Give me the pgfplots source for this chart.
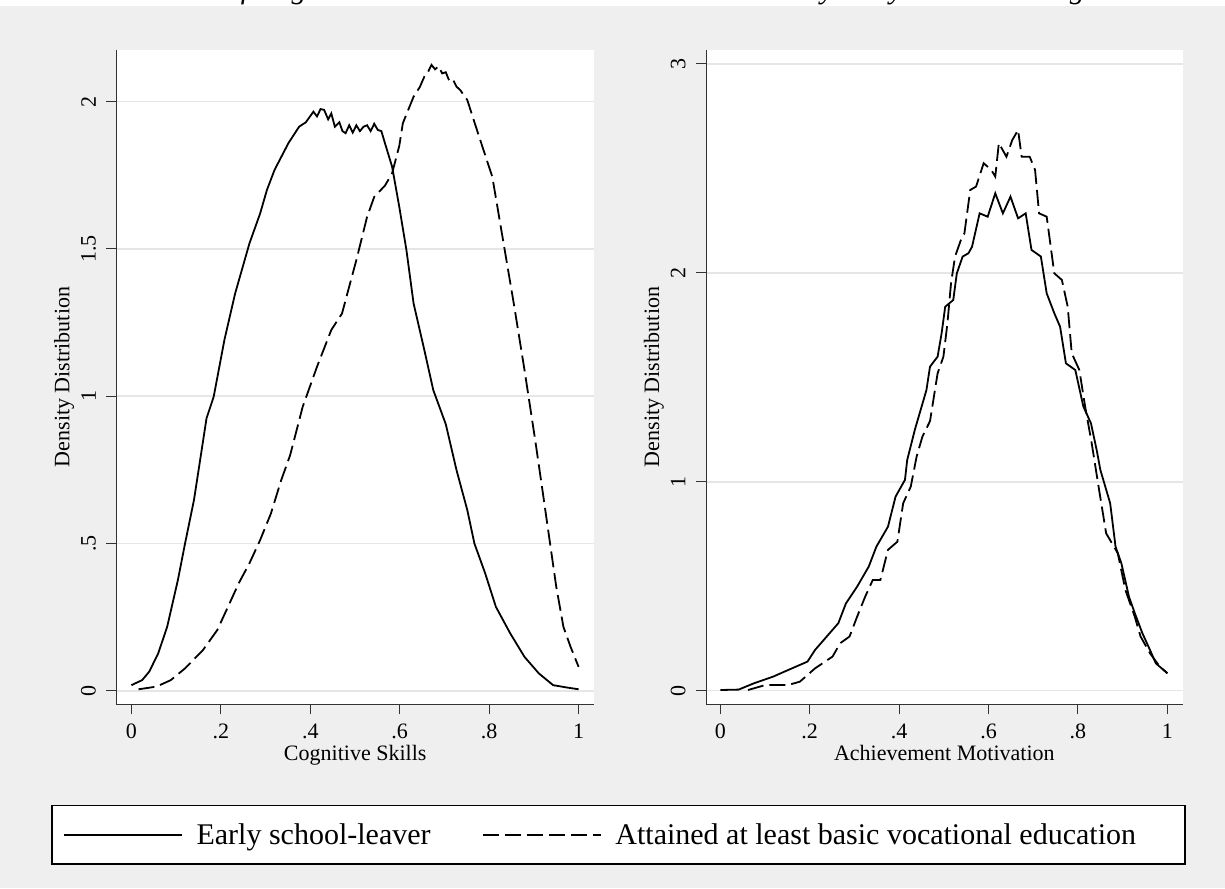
\documentclass[border=0pt]{standalone}
\usepackage{fontspec}
\setmainfont{Liberation Serif}
\usepackage{pgfplots}
\pgfplotsset{compat=1.18}
\definecolor{bg}{RGB}{239,239,239}
\definecolor{gridc}{RGB}{230,230,230}
\definecolor{axc}{RGB}{50,50,50}
\pgfplotsset{stata/.style={
  scale only axis, height=654pt,
  axis lines*=left, axis line style={axc, line width=1pt},
  axis background/.style={fill=white},
  tick align=outside, major tick length=10pt, tick style={axc, line width=1pt},
  xtick={0,0.2,0.4,0.6,0.8,1}, xticklabels={0,.2,.4,.6,.8,1},
  ymajorgrids, grid style={gridc, line width=1.5pt},
  /pgf/number format/assume math mode=true,
  tick label style={font=\fontsize{22}{26}\selectfont},
  label style={font=\fontsize{22}{26}\selectfont},
  yticklabel style={xshift=-7pt, rotate=90, anchor=south},
  xticklabel style={yshift=-6pt},
  every axis plot/.append style={line width=1.8pt, black},
  ylabel={Density Distribution},
}}
\begin{document}
\begin{tikzpicture}
\fill[white] (0pt,0pt) rectangle (1225pt,-6pt);
\fill[bg] (0pt,-6pt) rectangle (1225pt,-888pt);
\begin{scope}
\clip (0pt,0pt) rectangle (1225pt,-6pt);
\node[anchor=base east, inner sep=0pt, font=\itshape\fontsize{30}{34}\selectfont] at (1085pt,1pt) {Figure 4 Distribution of Cognitive Skills and Achievement Motivation by early school leaving};
\end{scope}
\begin{axis}[stata, at={(116.4pt,-704pt)}, anchor=south west, width=477.6pt,
  xmin=-0.0335, xmax=1.0344, ymin=-0.045, ymax=2.1755,
  ytick={0,0.5,1,1.5,2}, yticklabels={0,.5,1,1.5,2},
  xlabel={Cognitive Skills},
  legend columns=2,
  legend style={at={(rel axis cs:-0.1369,-0.1544)}, anchor=north west, draw=black, line width=1.5pt, fill=white,
    font=\fontsize{30}{34}\selectfont, inner xsep=11pt, inner ysep=16pt,
    /tikz/every odd column/.append style={column sep=12pt},
    /tikz/every even column/.append style={column sep=49pt}},
  legend image code/.code={\draw[#1] (0pt,0pt) -- (118pt,0pt);},
]
\addplot[solid] coordinates {(0,0.019)(0.024,0.036)(0.040,0.065)(0.060,0.127)(0.080,0.217)(0.104,0.376)(0.120,0.50)(0.140,0.648)(0.156,0.806)(0.168,0.925)(0.184,0.998)(0.208,1.191)(0.232,1.349)(0.264,1.519)(0.288,1.621)(0.303,1.700)(0.320,1.768)(0.351,1.859)(0.375,1.915)(0.390,1.93)(0.407,1.966)(0.415,1.95)(0.423,1.975)(0.431,1.972)(0.44,1.94)(0.447,1.96)(0.455,1.915)(0.465,1.93)(0.472,1.90)(0.479,1.893)(0.487,1.92)(0.495,1.895)(0.503,1.92)(0.511,1.90)(0.519,1.915)(0.527,1.92)(0.535,1.90)(0.543,1.925)(0.551,1.904)(0.559,1.90)(0.567,1.859)(0.583,1.779)(0.599,1.643)(0.615,1.496)(0.631,1.315)(0.655,1.157)(0.675,1.021)(0.703,0.905)(0.727,0.749)(0.751,0.614)(0.767,0.50)(0.791,0.399)(0.815,0.285)(0.847,0.195)(0.879,0.115)(0.911,0.059)(0.943,0.019)(0.974,0.011)(1.0,0.005)};
\addlegendentry{Early school-leaver}
\addplot[dash pattern=on 16pt off 6pt] coordinates {(0.016,0.005)(0.056,0.014)(0.088,0.036)(0.12,0.076)(0.160,0.138)(0.192,0.206)(0.216,0.285)(0.240,0.365)(0.264,0.433)(0.288,0.512)(0.312,0.602)(0.335,0.715)(0.355,0.80)(0.383,0.964)(0.415,1.100)(0.447,1.225)(0.471,1.281)(0.487,1.372)(0.503,1.462)(0.527,1.609)(0.543,1.677)(0.567,1.715)(0.583,1.757)(0.599,1.85)(0.607,1.927)(0.631,2.017)(0.645,2.05)(0.655,2.085)(0.663,2.10)(0.671,2.125)(0.679,2.11)(0.687,2.12)(0.695,2.096)(0.703,2.10)(0.711,2.07)(0.719,2.075)(0.727,2.051)(0.735,2.04)(0.751,2.006)(0.775,1.893)(0.807,1.745)(0.831,1.530)(0.855,1.315)(0.879,1.089)(0.903,0.85)(0.918,0.693)(0.934,0.523)(0.950,0.353)(0.966,0.217)(0.982,0.149)(1.0,0.081)};
\addlegendentry{Attained at least basic vocational education\hspace*{36pt}}
\end{axis}
\begin{axis}[stata, at={(706pt,-704pt)}, anchor=south west, width=476.6pt,
  xmin=-0.032, xmax=1.034, ymin=-0.064, ymax=3.067,
  ytick={0,1,2,3},
  xlabel={Achievement Motivation},
]
\addplot[solid] coordinates {(0,0.003)(0.041,0.005)(0.075,0.035)(0.118,0.067)(0.152,0.099)(0.195,0.139)(0.212,0.195)(0.238,0.259)(0.264,0.323)(0.281,0.418)(0.306,0.498)(0.332,0.594)(0.349,0.689)(0.375,0.785)(0.392,0.929)(0.413,1.009)(0.418,1.104)(0.435,1.248)(0.461,1.439)(0.469,1.551)(0.486,1.599)(0.495,1.711)(0.503,1.838)(0.521,1.870)(0.529,1.998)(0.542,2.078)(0.555,2.094)(0.563,2.125)(0.580,2.285)(0.598,2.269)(0.615,2.381)(0.632,2.285)(0.649,2.365)(0.666,2.261)(0.683,2.285)(0.696,2.110)(0.717,2.078)(0.730,1.902)(0.747,1.807)(0.760,1.742)(0.773,1.567)(0.794,1.535)(0.812,1.360)(0.829,1.280)(0.842,1.15)(0.850,1.057)(0.872,0.897)(0.884,0.689)(0.897,0.610)(0.914,0.450)(0.927,0.371)(0.944,0.275)(0.961,0.195)(0.974,0.131)(1.0,0.083)};
\addplot[dash pattern=on 16pt off 6pt] coordinates {(0.062,0.003)(0.101,0.027)(0.152,0.027)(0.178,0.043)(0.212,0.107)(0.251,0.163)(0.268,0.227)(0.289,0.259)(0.306,0.354)(0.324,0.450)(0.341,0.530)(0.358,0.530)(0.375,0.674)(0.396,0.713)(0.409,0.897)(0.426,0.977)(0.439,1.120)(0.452,1.216)(0.469,1.290)(0.486,1.519)(0.499,1.599)(0.508,1.759)(0.516,1.950)(0.525,2.078)(0.538,2.157)(0.546,2.190)(0.559,2.397)(0.572,2.413)(0.589,2.525)(0.606,2.493)(0.615,2.461)(0.623,2.621)(0.640,2.556)(0.653,2.636)(0.666,2.684)(0.674,2.556)(0.692,2.556)(0.704,2.493)(0.713,2.285)(0.730,2.269)(0.747,1.998)(0.764,1.966)(0.777,1.838)(0.786,1.615)(0.803,1.535)(0.816,1.360)(0.831,1.18)(0.846,0.977)(0.863,0.753)(0.889,0.658)(0.906,0.482)(0.927,0.354)(0.940,0.259)(0.961,0.179)(0.983,0.115)(1.0,0.083)};
\end{axis}
\pgfresetboundingbox
\path[use as bounding box] (0pt,0pt) rectangle (1225pt,-888pt);
\end{tikzpicture}
\end{document}
